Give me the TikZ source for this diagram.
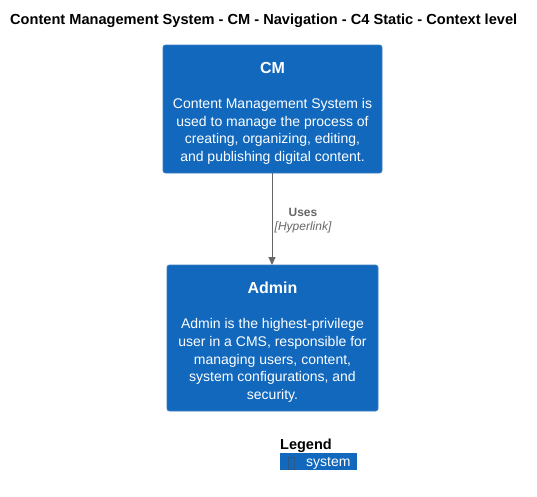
\documentclass[tikz,border=0pt]{standalone}
\usepackage{fontspec}
\setmainfont{Liberation Sans}
\usetikzlibrary{arrows.meta}
\definecolor{sysfill}{HTML}{1168BD}
\definecolor{sysline}{HTML}{3C7FC0}
\definecolor{relgray}{HTML}{666666}
\begin{document}
\begin{tikzpicture}[x=1pt,y=-1pt,
  sysbox/.style={fill=sysfill,draw=sysline,line width=0.8pt,rounded corners=2.5pt},
  boxtext/.style={text=white,align=center,inner sep=0pt,font=\fontsize{14}{17.6}\selectfont},
  boxtitle/.style={text=white,inner sep=0pt,font=\fontsize{16}{19}\selectfont\bfseries},
  rel/.style={draw=relgray,line width=0.9pt,-{Triangle[length=8pt,width=7pt]}}]
\useasboundingbox (0,0) rectangle (537,496);
\node[anchor=west,inner sep=0pt,font=\fontsize{14.6}{17}\selectfont\bfseries] (title) at (10,20.5) {Content Management System - CM - Navigation - C4 Static - Context level};
% CM
\draw[sysbox] (163,45) rectangle (382,173);
\coordinate (cmb) at (272,173);
\node[boxtitle] (cmt) at (272.5,67.5) {CM};
\node[boxtext] (cmd) at (272.5,131.5) {Content Management System is\\used to manage the process of\\creating, organizing, editing,\\and publishing digital content.};
% Admin
\draw[sysbox] (167,265) rectangle (378,411);
\coordinate (adt) at (272,265);
\node[boxtitle] (adtt) at (272.5,287.5) {Admin};
\node[boxtext] (add) at (272.5,360.5) {Admin is the highest-privilege\\user in a CMS, responsible for\\managing users, content,\\system configurations, and\\security.};
% relation
\draw[rel] (cmb) -- (adt);
\node[text=relgray,inner sep=0pt,font=\fontsize{12}{14}\selectfont\bfseries] (uses) at (303,212.5) {Uses};
\node[text=relgray,inner sep=0pt,font=\fontsize{12}{14}\selectfont\itshape] (hyp) at (303,227.5) {[Hyperlink]};
% legend
\node[anchor=west,inner sep=0pt,font=\fontsize{14.5}{17}\selectfont\bfseries] (leg) at (280,445.5) {Legend};
\fill[sysfill] (280,453) rectangle (357,470);
\draw[sysline!70!black,line width=0.6pt] (288,457) rectangle (294,469);
\node[anchor=west,text=white,inner sep=0pt,font=\fontsize{14}{17}\selectfont] (sys) at (306,463) {system};
\end{tikzpicture}
\end{document}
